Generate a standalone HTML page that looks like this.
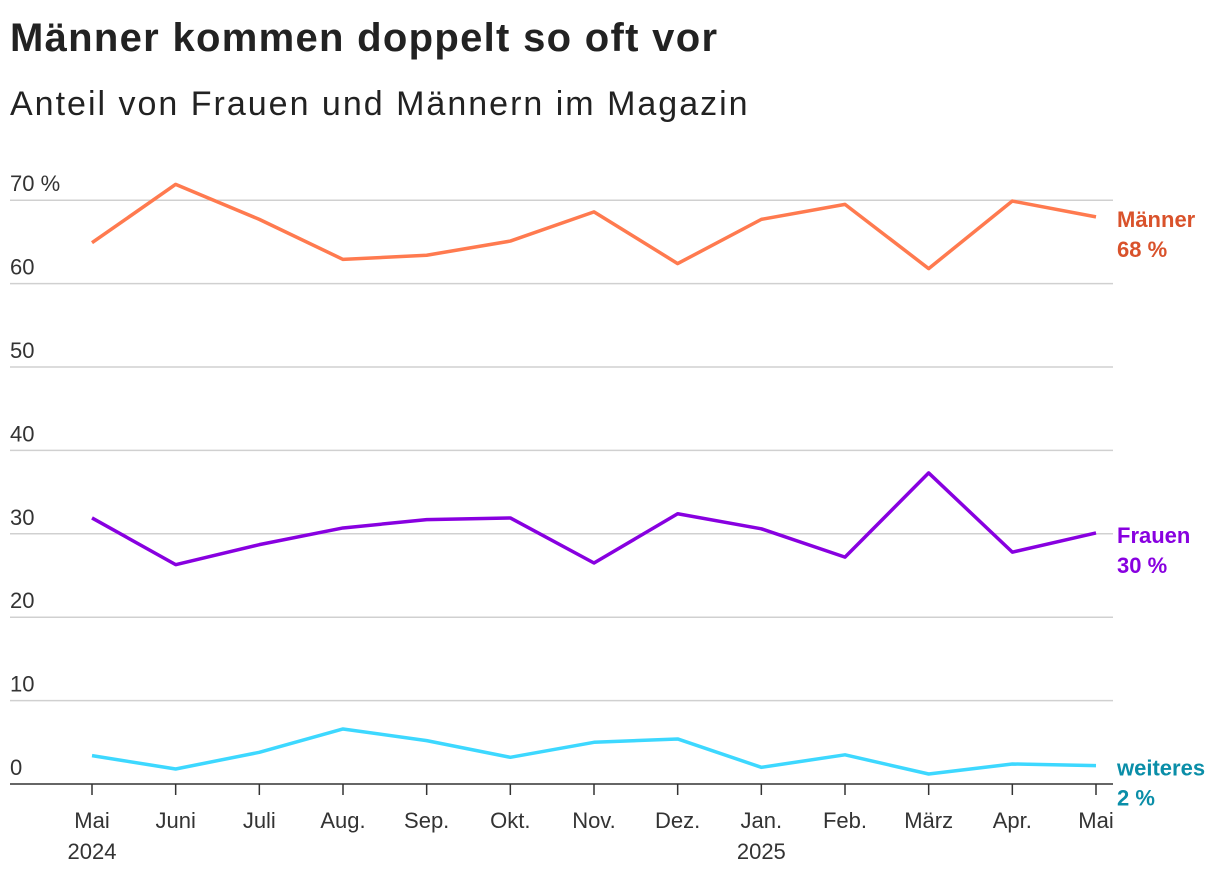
<!DOCTYPE html>
<html><head><meta charset="utf-8">
<style>
body{margin:0;background:#fff;font-family:"Liberation Sans",sans-serif;}
h1{position:absolute;left:10px;top:16px;margin:0;font-size:40px;letter-spacing:1.3px;font-weight:bold;color:#222;}
h2{position:absolute;left:10px;top:85px;margin:0;font-size:34px;letter-spacing:2px;font-weight:normal;color:#222;}
svg{position:absolute;left:0;top:0;}
</style></head><body>
<h1>Männer kommen doppelt so oft vor</h1>
<h2>Anteil von Frauen und Männern im Magazin</h2>
<svg id="c" width="1220" height="874"></svg>
<script>
const months=["Mai","Juni","Juli","Aug.","Sep.","Okt.","Nov.","Dez.","Jan.","Feb.","März","Apr.","Mai"];
const years=["2024","","","","","","","","2025","","","",""];
const maenner=[64.9,71.9,67.7,62.9,63.4,65.1,68.6,62.4,67.7,69.5,61.8,69.9,68.0];
const frauen=[31.9,26.3,28.7,30.7,31.7,31.9,26.5,32.4,30.6,27.2,37.3,27.8,30.1];
const weiteres=[3.4,1.8,3.8,6.6,5.2,3.2,5.0,5.4,2.0,3.5,1.2,2.4,2.2];
const yTicks=[0,10,20,30,40,50,60,70];
const yTickLabels=["0","10","20","30","40","50","60","70 %"];
const NS="http://www.w3.org/2000/svg",svg=document.getElementById('c');
const x=i=>92+i*(1096-92)/12, y=v=>784-v*8.34;
function el(t,a,txt){const e=document.createElementNS(NS,t);for(const k in a)e.setAttribute(k,a[k]);if(txt!=null)e.textContent=txt;svg.appendChild(e);return e;}
yTicks.forEach((t,i)=>{
 if(t>0){const g=el('line',{x1:10,x2:1113,y1:y(t),y2:y(t),stroke:'#d0d0d0','stroke-width':1.5});
 
 }
 const l=el('text',{x:10,y:y(t)-9,'font-size':22,fill:'#333'},yTickLabels[i]);
 
 
});
const ax=el('line',{x1:10,x2:1113,y1:784,y2:784,stroke:'#333','stroke-width':1.5});


months.forEach((m,i)=>{
 const tk=el('line',{x1:x(i),x2:x(i),y1:784,y2:795,stroke:'#333','stroke-width':1.5});
 
 
 const t=el('text',{x:x(i),y:828,'font-size':22,fill:'#333','text-anchor':'middle'},m);
 
 
 if(years[i]){const yt=el('text',{x:x(i),y:859,'font-size':22,fill:'#333','text-anchor':'middle'},years[i]);
 
 }
});
function series(data,col,name,lab,labCol){
 const p=el('polyline',{points:data.map((v,i)=>x(i)+','+y(v)).join(' '),fill:'none',stroke:col,'stroke-width':3.5,'stroke-linejoin':'round'});
 
 
 const ly=y(data[data.length-1]);
 const t1=el('text',{x:1117,y:ly+10,'font-size':22,'font-weight':'bold',fill:labCol},lab);
 
 
 const t2=el('text',{x:1117,y:ly+40,'font-size':22,'font-weight':'bold',fill:labCol},Math.round(data[data.length-1])+' %');
 
 
}
series(maenner,'#ff7a4f','maenner','Männer','#d9522b');
series(frauen,'#8800e0','frauen','Frauen','#8800e0');
series(weiteres,'#3dd8ff','weiteres','weiteres','#0a8ea8');
</script>
</body></html>
